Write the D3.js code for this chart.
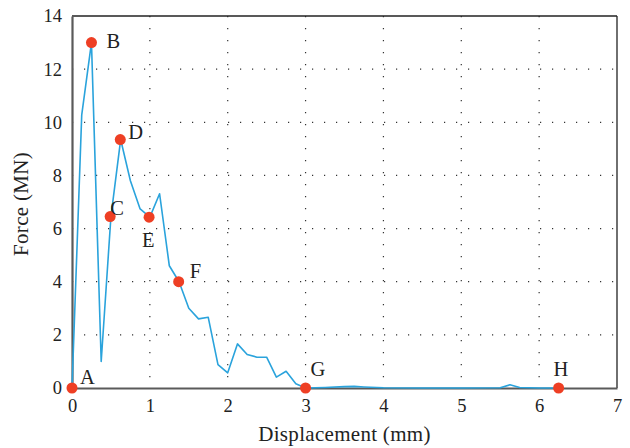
<!DOCTYPE html>
<html>
<head>
<meta charset="utf-8">
<script src="https://cdn.jsdelivr.net/npm/d3@7"></script>
<style>
  body { margin: 0; background: #fff; }
  svg text { font-family: "Liberation Serif", "DejaVu Serif", serif; fill: #222; }
</style>
</head>
<body>
<div id="chart"></div>
<script>
// Force-displacement curve with key points A-H

// curve data
var dispValues = [0, 0.125, 0.25, 0.375, 0.5, 0.625, 0.75, 0.875, 1.0, 1.125, 1.25, 1.375,
  1.5, 1.625, 1.75, 1.875, 2.0, 2.125, 2.25, 2.375, 2.5, 2.625, 2.75, 2.875, 3.0,
  3.25, 3.5, 3.625, 3.75, 4.0, 4.5, 5.0, 5.5, 5.625, 5.75, 6.0, 6.25];
var forceValues = [0, 10.28, 13.0, 1.0, 6.45, 9.35, 7.8, 6.74, 6.43, 7.31, 4.6, 4.0,
  3.0, 2.6, 2.66, 0.88, 0.57, 1.66, 1.26, 1.16, 1.16, 0.41, 0.63, 0.16, 0,
  0.02, 0.05, 0.06, 0.04, 0.01, 0, 0, 0.01, 0.12, 0.02, 0, 0];

// key points
var pointNames = ["A", "B", "C", "D", "E", "F", "G", "H"];
var pointDisp = [0, 0.25, 0.49, 0.62, 0.99, 1.37, 3.0, 6.25];
var pointForce = [0, 13.0, 6.45, 9.35, 6.43, 4.0, 0, 0];

var xTicks = [0, 1, 2, 3, 4, 5, 6, 7];
var yTicks = [0, 2, 4, 6, 8, 10, 12, 14];

// label offsets from the dot (px)
var labelOffset = {
  A: [8, -4], B: [15, 5], C: [0, -2], D: [8, -1],
  E: [-7, 30], F: [11, -4], G: [5, -12], H: [-5, -12]
};

var W = 630, H = 448;
var margin = {top: 16, right: 13, bottom: 60, left: 72};
var width = W - margin.left - margin.right,
    height = H - margin.top - margin.bottom;

var svg = d3.select("#chart").append("svg")
    .attr("width", W)
    .attr("height", H);

var g = svg.append("g")
    .attr("transform", "translate(" + margin.left + "," + margin.top + ")");

var x = d3.scaleLinear().domain([0, 7]).range([0, width]);
var y = d3.scaleLinear().domain([0, 14]).range([height, 0]);

// dotted grid
g.selectAll(".vgrid")
  .data(xTicks.filter(function(d) { return d > 0 && d < 7; }))
  .enter().append("line")
    .attr("x1", function(d) { return x(d); })
    .attr("x2", function(d) { return x(d); })
    .attr("y1", 0)
    .attr("y2", height)
    .style("stroke", "#333")
    .style("stroke-width", 1.2)
    .style("stroke-dasharray", "1.2,10.8");

g.selectAll(".hgrid")
  .data(yTicks.filter(function(d) { return d > 0 && d < 14; }))
  .enter().append("line")
    .attr("x1", 0)
    .attr("x2", width)
    .attr("y1", function(d) { return y(d); })
    .attr("y2", function(d) { return y(d); })
    .style("stroke", "#333")
    .style("stroke-width", 1.2)
    .style("stroke-dasharray", "1.2,10.8");

// frame: top/right thin black, bottom/left gray
g.append("line").attr("x1", 0).attr("x2", width).attr("y1", 0).attr("y2", 0)
  .style("stroke", "#222").style("stroke-width", 1.3);
g.append("line").attr("x1", width).attr("x2", width).attr("y1", 0).attr("y2", height)
  .style("stroke", "#222").style("stroke-width", 1.3);

// axes
var xAxis = g.append("g")
    .attr("transform", "translate(0," + height + ")")
    .call(d3.axisBottom(x).tickValues(xTicks).tickSize(0).tickPadding(11).tickFormat(d3.format("d")));
xAxis.select(".domain").style("stroke", "#5a5a5a").style("stroke-width", 2.2);
xAxis.selectAll("text").style("font-size", "18.5px").style("font-family", "Liberation Serif, serif").style("fill", "#222");

var yAxis = g.append("g")
    .call(d3.axisLeft(y).tickValues(yTicks).tickSize(0).tickPadding(10).tickFormat(d3.format("d")));
yAxis.select(".domain").style("stroke", "#5a5a5a").style("stroke-width", 2.2);
yAxis.selectAll("text").style("font-size", "18.5px").style("font-family", "Liberation Serif, serif").style("fill", "#222");

// curve
var curveData = dispValues.map(function(d, i) { return {x: d, y: forceValues[i]}; });
var line = d3.line()
    .x(function(d) { return x(d.x); })
    .y(function(d) { return y(d.y); });

g.append("path")
    .datum(curveData)
    .attr("d", line)
    .style("fill", "none")
    .style("stroke", "#2aa3dc")
    .style("stroke-width", 1.6)
    .style("stroke-linejoin", "round");

// key points
var pts = pointNames.map(function(n, i) { return {name: n, x: pointDisp[i], y: pointForce[i]}; });

g.selectAll(".pt")
  .data(pts)
  .enter().append("circle")
    .attr("cx", function(d) { return x(d.x); })
    .attr("cy", function(d) { return y(d.y); })
    .attr("r", 5.5)
    .style("fill", "#ee3f24");

g.selectAll(".ptlabel")
  .data(pts)
  .enter().append("text")
    .attr("x", function(d) { return x(d.x) + labelOffset[d.name][0]; })
    .attr("y", function(d) { return y(d.y) + labelOffset[d.name][1]; })
    .style("font-size", "20.5px")
    .text(function(d) { return d.name; });

// axis titles
svg.append("text")
    .attr("x", margin.left + width / 2)
    .attr("y", 441)
    .attr("text-anchor", "middle")
    .style("font-size", "21px")
    .style("letter-spacing", "0.3px")
    .text("Displacement (mm)");

svg.append("text")
    .attr("transform", "translate(28," + (margin.top + height / 2 + 2) + ") rotate(-90)")
    .attr("text-anchor", "middle")
    .style("font-size", "21px")
    .style("letter-spacing", "0.3px")
    .text("Force (MN)");
</script>
</body>
</html>
